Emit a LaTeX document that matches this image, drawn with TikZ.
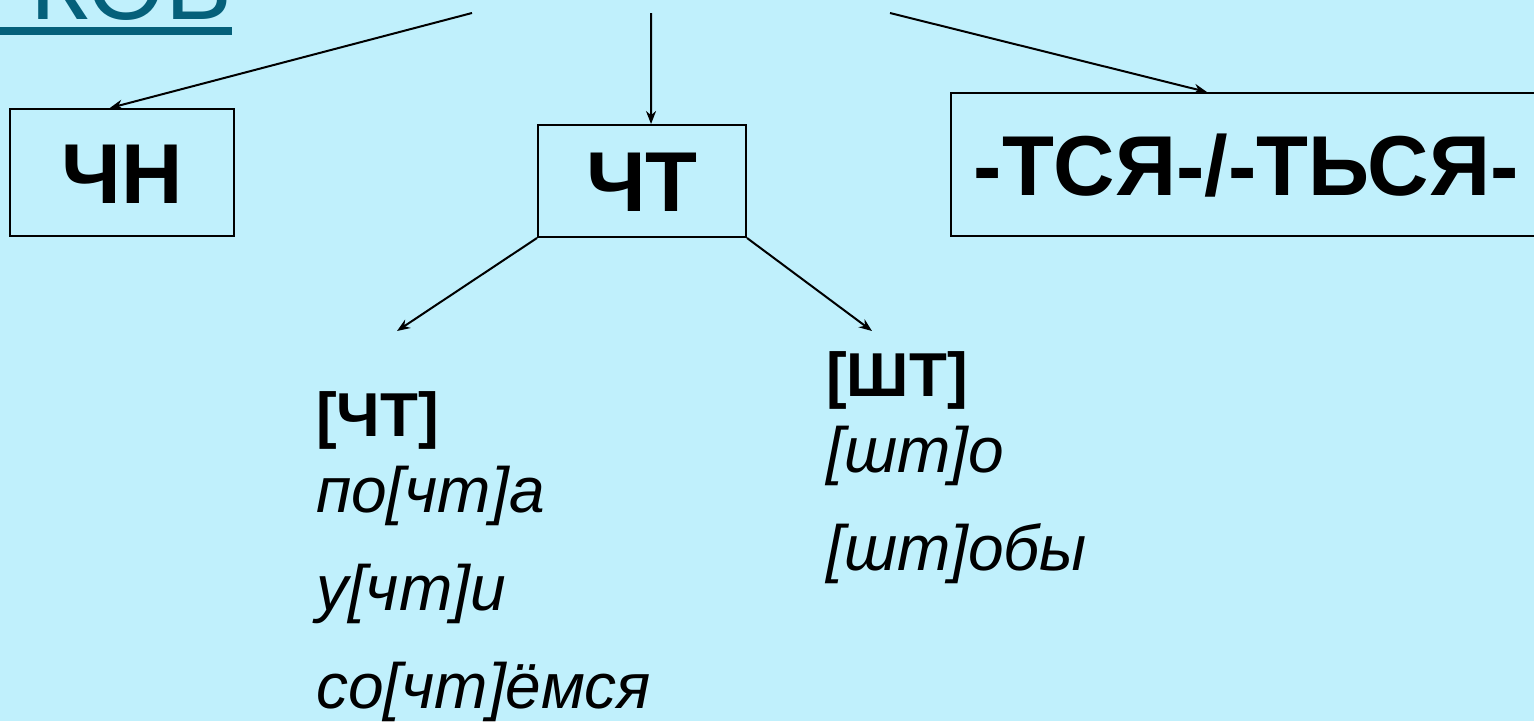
\documentclass[tikz,border=0pt]{standalone}
\usepackage{fontspec}
\setmainfont{Liberation Sans}
\usetikzlibrary{arrows.meta,calc}

\definecolor{slidebg}{RGB}{192,240,252}
\definecolor{titleteal}{RGB}{5,96,122}

\begin{document}
\begin{tikzpicture}[x=1pt,y=-1pt,
    box/.style={draw,line width=2pt,inner sep=0pt,
      font=\fontsize{85}{85}\selectfont\bfseries,text height=61pt,text depth=0pt},
    link/.style={line width=2pt,-{Stealth[length=13pt,width=10pt]}},
    sound/.style={anchor=base west,inner sep=0pt,font=\fontsize{62}{62}\selectfont\bfseries},
    word/.style={anchor=base west,inner sep=0pt,font=\fontsize{64}{64}\selectfont\itshape}]
    \fill[slidebg] (0,0) rectangle (1534,721);
    \useasboundingbox (0,0) rectangle (1534,721);

    % title, cut by the top edge
    \node[anchor=base east,inner sep=0pt,text=titleteal,
      font=\fontsize{100}{100}\selectfont] (kov) at (232,19) {КОВ};
    \coordinate (ulstart) at (0,31);
    \draw[titleteal,line width=8pt] (ulstart) -- (ulstart -| kov.east);

    % boxes
    \node[box,minimum width=224pt,minimum height=127pt] (chn) at (122,172.5) {ЧН};
    \node[box,minimum width=208pt,minimum height=112pt] (cht) at (642,181) {ЧТ};
    \node[box,minimum width=590pt,minimum height=143pt] (tsya) at (1246,164.5) {-ТСЯ-/-ТЬСЯ-};

    \coordinate (fromL) at (472,13);
    \coordinate (fromM) at (651,13);
    \coordinate (fromR) at (890,13);
    \draw[link] (fromL) -- ($(chn.north west)!0.446!(chn.north east)$);
    \draw[link] (fromM) -- ($(cht.north west)!0.543!(cht.north east)$);
    \draw[link] (fromR) -- ($(tsya.north west)!0.434!(tsya.north east)$);

    \coordinate (toCht) at (397,331);
    \coordinate (toSht) at (872,331);
    \draw[link] (cht.south west) -- (toCht);
    \draw[link] (cht.south east) -- (toSht);

    % left column
    \node[sound] (cht1) at (316,436) {[ЧТ]};
    \node[word] (pochta) at (316,512) {по[чт]а};
    \node[word] (uchti) at (316,610) {у[чт]и};
    \node[word] (sochtemsya) at (316,708) {со[чт]ёмся};

    % right column
    \node[sound] (sht1) at (826,396) {[ШТ]};
    \node[word] (shto) at (826,472) {[шт]о};
    \node[word] (shtoby) at (826,570) {[шт]обы};
\end{tikzpicture}
\end{document}
